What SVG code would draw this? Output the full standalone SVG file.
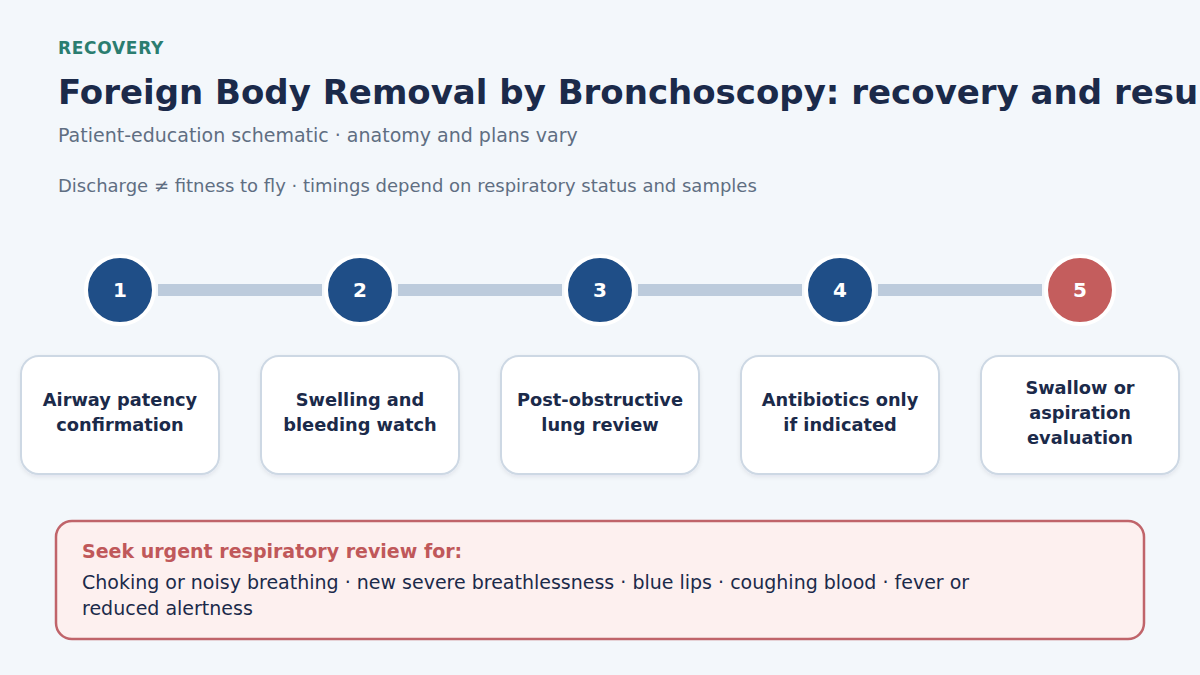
<svg xmlns="http://www.w3.org/2000/svg" width="1200" height="675" viewBox="0 0 1200 675">
<defs>
<style>
text{font-family:"DejaVu Sans","Liberation Sans",sans-serif}
.kicker{font-size:17px;font-weight:bold;fill:#2b7d70;letter-spacing:0.7px}
.title{font-size:34px;font-weight:bold;fill:#1b2a4a}
.sub{font-size:19px;fill:#5f6e82}
.sub2{font-size:18px;fill:#5f6e82}
.num{font-size:20px;font-weight:bold;fill:#ffffff;text-anchor:middle}
.lbl{font-size:17.8px;font-weight:bold;fill:#1b2a4a;text-anchor:middle}
.dot{stroke:#ffffff;stroke-width:4}
.card{fill:#ffffff;stroke:#cdd8e4;stroke-width:2}
.link{stroke:#bccbdc;stroke-width:12}
.ah{font-size:19px;font-weight:bold;fill:#c0585a}
.ab{font-size:19px;fill:#1b2a4a}
</style>
<filter id="sh" x="-10%" y="-10%" width="120%" height="130%"><feDropShadow dx="0" dy="2" stdDeviation="2" flood-color="#1b2a4a" flood-opacity="0.08"/></filter>
</defs>
<rect width="1200" height="675" fill="#f3f7fb"/>
<text class="kicker" x="58" y="54">RECOVERY</text>
<text class="title" x="58" y="104">Foreign Body Removal by Bronchoscopy: recovery and results</text>
<text class="sub" x="58" y="142">Patient-education schematic · anatomy and plans vary</text>
<text class="sub2" x="58" y="192">Discharge ≠ fitness to fly · timings depend on respiratory status and samples</text>
<g id="connectors">
<line class="link" x1="158" y1="290" x2="322" y2="290"/>
<line class="link" x1="398" y1="290" x2="562" y2="290"/>
<line class="link" x1="638" y1="290" x2="802" y2="290"/>
<line class="link" x1="878" y1="290" x2="1042" y2="290"/>
</g>
<g id="step1">
<circle class="dot" cx="120" cy="290" r="34" fill="#1f4e87"/>
<text class="num" x="120" y="297">1</text>
<rect class="card" filter="url(#sh)" x="21" y="356" width="198" height="118" rx="18"/>
<text class="lbl" x="120" y="406">Airway patency</text>
<text class="lbl" x="120" y="431">confirmation</text>
</g>
<g id="step2">
<circle class="dot" cx="360" cy="290" r="34" fill="#1f4e87"/>
<text class="num" x="360" y="297">2</text>
<rect class="card" filter="url(#sh)" x="261" y="356" width="198" height="118" rx="18"/>
<text class="lbl" x="360" y="406">Swelling and</text>
<text class="lbl" x="360" y="431">bleeding watch</text>
</g>
<g id="step3">
<circle class="dot" cx="600" cy="290" r="34" fill="#1f4e87"/>
<text class="num" x="600" y="297">3</text>
<rect class="card" filter="url(#sh)" x="501" y="356" width="198" height="118" rx="18"/>
<text class="lbl" x="600" y="406">Post-obstructive</text>
<text class="lbl" x="600" y="431">lung review</text>
</g>
<g id="step4">
<circle class="dot" cx="840" cy="290" r="34" fill="#1f4e87"/>
<text class="num" x="840" y="297">4</text>
<rect class="card" filter="url(#sh)" x="741" y="356" width="198" height="118" rx="18"/>
<text class="lbl" x="840" y="406">Antibiotics only</text>
<text class="lbl" x="840" y="431">if indicated</text>
</g>
<g id="step5">
<circle class="dot" cx="1080" cy="290" r="34" fill="#c45d5d"/>
<text class="num" x="1080" y="297">5</text>
<rect class="card" filter="url(#sh)" x="981" y="356" width="198" height="118" rx="18"/>
<text class="lbl" x="1080" y="394">Swallow or</text>
<text class="lbl" x="1080" y="419">aspiration</text>
<text class="lbl" x="1080" y="444">evaluation</text>
</g>
<g id="alert">
<rect x="56" y="521" width="1088" height="118" rx="16" fill="#fdf0ef" stroke="#c0646a" stroke-width="2.5"/>
<text class="ah" x="82" y="558">Seek urgent respiratory review for:</text>
<text class="ab" x="82" y="589">Choking or noisy breathing · new severe breathlessness · blue lips · coughing blood · fever or</text>
<text class="ab" x="82" y="615">reduced alertness</text>
</g>
</svg>
